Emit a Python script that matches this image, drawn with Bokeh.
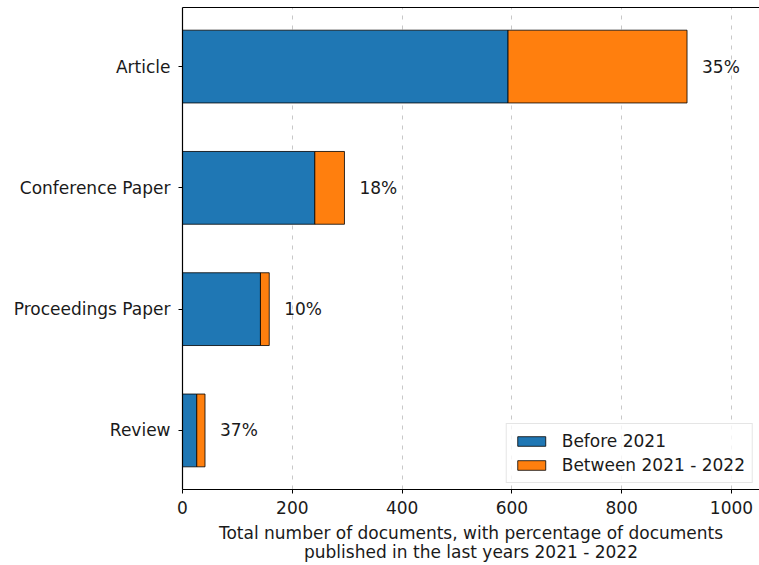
from bokeh.plotting import figure
from bokeh.models import ColumnDataSource, FixedTicker, LinearAxis, Legend, LegendItem, Range1d
from bokeh.embed import file_html
from bokeh.resources import INLINE

categories = ["Review", "Proceedings Paper", "Conference Paper", "Article"]
before_2021 = [26, 142, 241, 593]
between_2021_2022 = [15, 16, 54, 326]
pct_labels = ["37%", "10%", "18%", "35%"]
x_ticks = [0, 200, 400, 600, 800, 1000]

ypos = list(range(len(categories)))
totals = [a + b for a, b in zip(before_2021, between_2021_2022)]

src = ColumnDataSource(dict(y=ypos, before=before_2021, total=totals, pct=pct_labels))

FONT = "DejaVu Sans"
FS = "17px"
TC = "#1a1a1a"

p = figure(width=759, height=565, output_backend="svg", toolbar_location=None,
           x_range=Range1d(0, 1051), y_range=Range1d(-0.487, 3.487),
           min_border_left=182, min_border_right=0, min_border_top=7, min_border_bottom=76)
p.outline_line_color = None
p.background_fill_color = "white"
p.border_fill_color = "white"

r1 = p.hbar(y="y", left=0, right="before", height=0.6, source=src,
            fill_color="#1f77b4", line_color="black", line_width=0.8)
r2 = p.hbar(y="y", left="before", right="total", height=0.6, source=src,
            fill_color="#ff7f0e", line_color="black", line_width=0.8)
p.text(x="total", y="y", text="pct", source=src, x_offset=15,
       text_align="left", text_baseline="middle", text_font_size=FS,
       text_font={"value": FONT}, text_color=TC)

p.xaxis.ticker = FixedTicker(ticks=x_ticks)
p.yaxis.ticker = FixedTicker(ticks=ypos)
p.yaxis.major_label_overrides = {i: c for i, c in enumerate(categories)}
for ax in (p.xaxis[0], p.yaxis[0]):
    ax.major_label_text_font = FONT
    ax.major_label_text_font_size = FS
    ax.major_label_text_color = TC
    ax.major_tick_in = 0
    ax.major_tick_out = 4
    ax.minor_tick_in = 0
    ax.minor_tick_out = 0
    ax.axis_line_color = "black"
    ax.axis_line_width = 1.2
    ax.major_tick_line_color = "black"
p.xaxis.axis_label = "Total number of documents, with percentage of documents\npublished in the last years 2021 - 2022"
p.xaxis.axis_label_text_font = FONT
p.xaxis.axis_label_text_font_size = FS
p.xaxis.axis_label_text_font_style = "normal"
p.xaxis.axis_label_text_color = TC
p.xaxis.axis_label_text_line_height = 0.95
p.xaxis.axis_label_standoff = 6
p.xaxis.major_label_standoff = 7
p.yaxis.major_label_standoff = 8

top = LinearAxis(ticker=FixedTicker(ticks=[]), major_label_text_font_size="0px",
                 major_tick_line_color=None, minor_tick_line_color=None,
                 axis_line_color="black", axis_line_width=1.2)
p.add_layout(top, "above")

p.ygrid.grid_line_color = None
p.xgrid.ticker = FixedTicker(ticks=x_ticks)
p.xgrid.grid_line_color = "#c8c8c8"
p.xgrid.grid_line_dash = "4 6"
p.xgrid.grid_line_width = 1

legend = Legend(items=[LegendItem(label="Before 2021", renderers=[r1]),
                       LegendItem(label="Between 2021 - 2022", renderers=[r2])],
                location="bottom_right")
legend.label_text_font = FONT
legend.label_text_font_size = FS
legend.label_text_color = TC
legend.glyph_width = 35
legend.glyph_height = 12
legend.spacing = 4
legend.padding = 7
legend.margin = 6
legend.label_standoff = 13
legend.border_line_color = "#cccccc"
legend.border_line_width = 1
legend.background_fill_alpha = 0.8
p.add_layout(legend)

open("out.html", "w").write(file_html(p, INLINE))
